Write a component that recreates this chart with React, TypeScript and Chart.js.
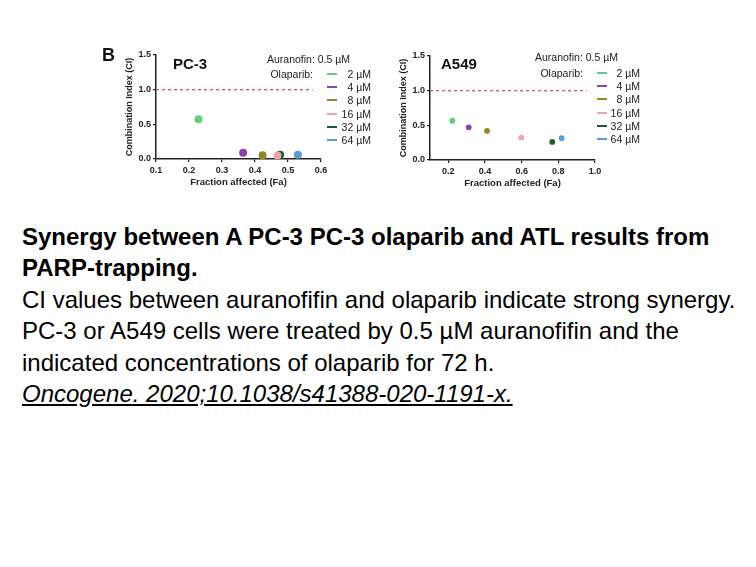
import { useEffect, useRef } from "react";
import { Chart, registerables } from "chart.js";

Chart.register(...registerables);

// Olaparib doses combined with 0.5 µM auranofin
const doses = ["2 µM", "4 µM", "8 µM", "16 µM", "32 µM", "64 µM"];
const doseColors = ["#5fcf78", "#8c3fb2", "#8f8a22", "#f3a2a6", "#1f5c2b", "#5b9bd8"];

// PC-3: fraction affected and combination index per dose
const pc3Fa = [0.229, 0.364, 0.423, 0.468, 0.476, 0.53];
const pc3CI = [0.573, 0.09, 0.053, 0.05, 0.062, 0.06];

// A549: fraction affected and combination index per dose
const a549Fa = [0.222, 0.311, 0.411, 0.598, 0.767, 0.818];
const a549CI = [0.566, 0.471, 0.419, 0.323, 0.261, 0.314];

const pc3XTicks = [0.1, 0.2, 0.3, 0.4, 0.5, 0.6];
const a549XTicks = [0.2, 0.4, 0.6, 0.8, 1.0];
const ciTicks = [0, 0.5, 1.0, 1.5];

// CI = 1 marks additivity; the dashed reference line stops short of the axis end
const additiveCI = 1.0;
const pc3RefEnd = 0.575;
const a549RefEnd = 0.955;

const refColor = "#e2566c";
const inkColor = "#222";
const FONT = "'Liberation Sans', Arial, Helvetica, sans-serif";

Chart.defaults.font.family = FONT;

type PanelProps = {
  left: number;
  top: number;
  xMin: number;
  xMax: number;
  xTicks: number[];
  fa: number[];
  ci: number[];
  radius: number;
  refEnd: number;
};

const CANVAS_W = 245;
const CANVAS_H = 150;

function CIPanel(p: PanelProps) {
  const ref = useRef<HTMLCanvasElement | null>(null);

  useEffect(() => {
    if (!ref.current) return;
    const pointSets = doses.map((d, i) => ({
      type: "scatter" as const,
      label: d,
      data: [{ x: p.fa[i], y: p.ci[i] }],
      backgroundColor: doseColors[i],
      borderColor: doseColors[i],
      pointRadius: p.radius,
      pointBorderWidth: 0,
    }));

    const chart = new Chart(ref.current, {
      type: "scatter",
      data: {
        datasets: [
          {
            type: "line" as const,
            label: "CI = 1",
            data: [
              { x: p.xMin, y: additiveCI },
              { x: p.refEnd, y: additiveCI },
            ],
            borderColor: refColor,
            borderDash: [3, 3],
            borderWidth: 1.4,
            pointRadius: 0,
            fill: false,
          },
          ...pointSets,
        ] as any,
      },
      options: {
        responsive: false,
        animation: false,
        layout: { padding: { left: 20, top: 10, right: CANVAS_W - 221, bottom: 0 } },
        plugins: { legend: { display: false }, tooltip: { enabled: false } },
        scales: {
          x: {
            type: "linear",
            min: p.xMin,
            max: p.xMax,
            afterBuildTicks: (s: any) => {
              s.ticks = p.xTicks.map((v) => ({ value: v }));
            },
            afterFit: (s: any) => {
              s.height = 36;
            },
            ticks: {
              color: inkColor,
              padding: 3,
              font: { size: 9, weight: "bold" },
              callback: (v: any) => Number(v).toFixed(1),
            },
            grid: {
              display: true,
              drawOnChartArea: false,
              drawTicks: true,
              tickLength: 3,
              color: inkColor,
              lineWidth: 1.2,
            },
            border: { display: true, color: inkColor, width: 1.5 },
            title: {
              display: true,
              text: "Fraction affected (Fa)",
              color: inkColor,
              font: { size: 9.5, weight: "bold" },
              padding: { top: 0, bottom: 7 },
            },
          },
          y: {
            type: "linear",
            min: 0,
            max: 1.5,
            afterBuildTicks: (s: any) => {
              s.ticks = ciTicks.map((v) => ({ value: v }));
            },
            afterFit: (s: any) => {
              s.width = 36;
            },
            ticks: {
              color: inkColor,
              padding: 2,
              font: { size: 9, weight: "bold" },
              callback: (v: any) => Number(v).toFixed(1),
            },
            grid: {
              display: true,
              drawOnChartArea: false,
              drawTicks: true,
              tickLength: 3,
              color: inkColor,
              lineWidth: 1.2,
            },
            border: { display: true, color: inkColor, width: 1.5 },
            title: {
              display: true,
              text: "Combination Index (CI)",
              color: inkColor,
              font: { size: 9, weight: "bold" },
              padding: { top: 4, bottom: 0 },
            },
          },
        },
      } as any,
    });
    return () => chart.destroy();
  }, []);

  return (
    <canvas
      ref={ref}
      width={CANVAS_W}
      height={CANVAS_H}
      style={{ position: "absolute", left: p.left, top: p.top, width: CANVAS_W, height: CANVAS_H }}
    />
  );
}

type LegendProps = {
  auranofinLeft: number;
  auranofinY: number;
  olaparibRight: number;
  rowTop: number;
  lineLeft: number;
  labelRight: number;
};

const ROW_STEP = 13.2;

function DoseLegend(l: LegendProps) {
  const txt: React.CSSProperties = {
    position: "absolute",
    fontFamily: FONT,
    fontSize: 10.5,
    lineHeight: "12px",
    color: inkColor,
    whiteSpace: "nowrap",
  };
  return (
    <>
      <div style={{ ...txt, left: l.auranofinLeft, top: l.auranofinY - 6 }}>Auranofin: 0.5 µM</div>
      <div style={{ ...txt, right: 756 - l.olaparibRight, top: l.rowTop - 6 }}>Olaparib:</div>
      {doses.map((d, i) => (
        <div key={d}>
          <div
            style={{
              position: "absolute",
              left: l.lineLeft,
              top: l.rowTop + i * ROW_STEP - 1,
              width: 10,
              height: 2,
              background: doseColors[i],
            }}
          />
          <div style={{ ...txt, right: 756 - l.labelRight, top: l.rowTop + i * ROW_STEP - 6 }}>{d}</div>
        </div>
      ))}
    </>
  );
}

const bold: React.CSSProperties = { fontFamily: FONT, fontWeight: "bold", color: "#111", position: "absolute" };

export default function App() {
  const line: React.CSSProperties = { whiteSpace: "nowrap", height: 31.4 };
  return (
    <div
      style={{
        position: "absolute",
        left: 0,
        top: 0,
        width: 756,
        height: 567,
        background: "#fff",
        overflow: "hidden",
      }}
    >
      <div style={{ position: "absolute", left: 0, top: 0, width: 756, height: 200, filter: "blur(0.35px)" }}>
        <div style={{ ...bold, left: 102, top: 45, fontSize: 18, lineHeight: "20px" }}>B</div>
        <div style={{ ...bold, left: 173, top: 55, fontSize: 15, lineHeight: "17px" }}>PC-3</div>
        <div style={{ ...bold, left: 441, top: 55, fontSize: 15, lineHeight: "17px" }}>A549</div>

        <CIPanel
          left={100}
          top={45}
          xMin={0.1}
          xMax={0.6}
          xTicks={pc3XTicks}
          fa={pc3Fa}
          ci={pc3CI}
          radius={4}
          refEnd={pc3RefEnd}
        />
        <CIPanel
          left={374}
          top={46}
          xMin={0.1}
          xMax={1.0}
          xTicks={a549XTicks}
          fa={a549Fa}
          ci={a549CI}
          radius={2.9}
          refEnd={a549RefEnd}
        />

        <DoseLegend auranofinLeft={267} auranofinY={58.5} olaparibRight={313} rowTop={74} lineLeft={327} labelRight={371} />
        <DoseLegend auranofinLeft={535} auranofinY={56.5} olaparibRight={583} rowTop={73} lineLeft={597} labelRight={640} />
      </div>

      <div
        style={{
          position: "absolute",
          left: 22,
          top: 221,
          fontFamily: FONT,
          fontSize: 24,
          lineHeight: "31.4px",
          color: "#000",
        }}
      >
        <div style={{ ...line, fontWeight: "bold" }}>Synergy between A PC-3 PC-3 olaparib and ATL results from</div>
        <div style={{ ...line, fontWeight: "bold" }}>PARP-trapping.</div>
        <div style={line}>CI values between auranofifin and olaparib indicate strong synergy.</div>
        <div style={line}>PC-3 or A549 cells were treated by 0.5 µM auranofifin and the</div>
        <div style={line}>indicated concentrations of olaparib for 72 h.</div>
        <div style={{ ...line, fontStyle: "italic", textDecoration: "underline" }}>
          Oncogene. 2020;10.1038/s41388-020-1191-x.
        </div>
      </div>
    </div>
  );
}
